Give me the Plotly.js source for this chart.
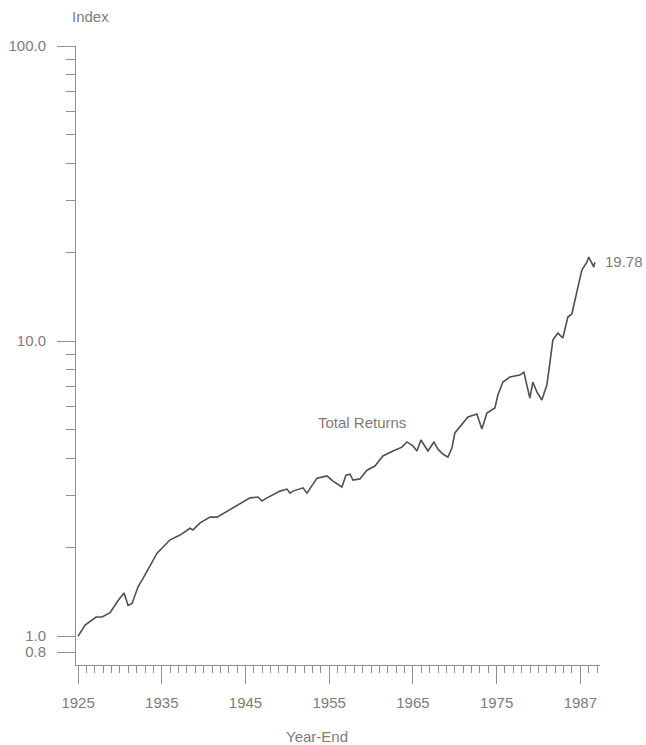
<!DOCTYPE html>
<html>
<head>
<meta charset="utf-8">
<script src="https://cdn.plot.ly/plotly-3.0.1.min.js"></script>
<style>html,body{margin:0;padding:0;background:#fff;}#chart{width:646px;height:745px;}</style>
</head>
<body>
<div id="chart"></div>
<script>
// Year-end positions (fractional years) and index values
const years = [1925.0,1925.84,1927.15,1927.87,1928.82,1929.78,1930.49,1930.97,1931.45,1932.16,
  1932.76,1933.6,1934.43,1935.99,1937.18,1938.37,1938.73,1939.57,1940.76,1941.6,
  1942.79,1943.51,1944.58,1945.54,1946.49,1946.97,1947.57,1949.12,1949.96,1950.31,
  1950.67,1951.87,1952.34,1953.54,1954.73,1955.45,1956.52,1957.0,1957.48,1957.84,
  1958.67,1959.51,1960.46,1961.42,1962.61,1963.69,1964.28,1965.0,1965.48,1965.96,
  1966.79,1967.51,1967.99,1968.58,1969.18,1969.66,1970.01,1970.61,1971.57,1972.64,
  1973.24,1973.84,1974.79,1975.15,1975.75,1976.58,1977.78,1978.25,1978.61,1978.97,
  1979.33,1979.81,1980.4,1981.0,1981.36,1981.72,1982.31,1982.91,1983.51,1983.99,
  1984.58,1985.18,1985.78,1986.01,1986.37,1986.61,1986.73];
const totalReturns = [1.00,1.09,1.16,1.16,1.20,1.32,1.40,1.27,1.29,1.47,
  1.57,1.74,1.91,2.12,2.20,2.32,2.29,2.42,2.53,2.53,
  2.65,2.72,2.85,2.94,2.96,2.87,2.94,3.10,3.15,3.05,
  3.10,3.18,3.05,3.43,3.49,3.35,3.20,3.51,3.54,3.38,
  3.41,3.65,3.77,4.08,4.24,4.37,4.55,4.41,4.24,4.62,
  4.24,4.55,4.30,4.14,4.04,4.34,4.88,5.11,5.53,5.66,
  5.03,5.70,5.93,6.56,7.26,7.55,7.67,7.85,6.99,6.41,
  7.26,6.72,6.31,7.09,8.42,10.08,10.64,10.24,12.06,12.35,
  14.66,17.41,18.52,19.27,18.38,17.81,18.52];

const xTickVals = [1925,1935,1945,1955,1965,1975,1985];
const xTickText = ["1925","1935","1945","1955","1965","1975","1987"];
const xMinorVals = [];
for (let y = 1926; y <= 1987; y++) if ((y - 1925) % 10 !== 0) xMinorVals.push(y);

const yTickVals = [0.883, 1, 10, 100];
const yTickText = ["0.8", "1.0", "10.0", "100.0"];
const yMinorVals = [2,3,4,5,6,7,8,9,20,30,40,50,60,70,80,90];

const endLabel = "19.78";
const seriesLabel = "Total Returns";

const txt = '#7c7c7c';
const axc = '#8f8f8f';
const font = {family: 'Liberation Sans, Arial, sans-serif', size: 15, color: txt};

const trace = {
  x: years, y: totalReturns, type: 'scatter', mode: 'lines',
  line: {color: '#505050', width: 1.6}, hoverinfo: 'skip'
};

const layout = {
  width: 646, height: 745,
  margin: {l: 76, r: 46, t: 46, b: 80},
  paper_bgcolor: '#fff', plot_bgcolor: '#fff',
  showlegend: false,
  font: font,
  xaxis: {
    range: [1924.75, 1987.35],
    tickmode: 'array', tickvals: xTickVals, ticktext: xTickText,
    ticks: 'outside', ticklen: 18, tickwidth: 1, tickcolor: axc,
    ticklabelstandoff: 6,
    minor: {tickmode: 'array', tickvals: xMinorVals, ticks: 'outside', ticklen: 7, tickwidth: 1, tickcolor: axc},
    showline: true, linecolor: axc, linewidth: 1,
    showgrid: false, zeroline: false,
    tickfont: font
  },
  yaxis: {
    type: 'log', range: [-0.098, 2],
    tickmode: 'array', tickvals: yTickVals, ticktext: yTickText,
    ticks: 'outside', ticklen: 18, tickwidth: 1, tickcolor: axc,
    ticklabelstandoff: 8,
    minor: {tickmode: 'array', tickvals: yMinorVals, ticks: 'outside', ticklen: 9, tickwidth: 1, tickcolor: axc},
    showline: true, linecolor: axc, linewidth: 1,
    showgrid: false, zeroline: false,
    tickfont: font
  },
  annotations: [
    {text: 'Index', xref: 'paper', yref: 'paper', x: 0.0286, y: 1.047, xanchor: 'center', yanchor: 'middle', showarrow: false, font: font},
    {text: 'Year-End', xref: 'paper', yref: 'paper', x: 0.459, y: -0.116, xanchor: 'center', yanchor: 'middle', showarrow: false, font: font},
    {text: seriesLabel, xref: 'x', yref: 'y', x: 1958.9, y: 0.7254, xanchor: 'center', yanchor: 'middle', showarrow: false, font: font},
    {text: endLabel, xref: 'paper', yref: 'y', x: 1.0057, y: 1.268, xanchor: 'left', yanchor: 'middle', showarrow: false, font: font}
  ]
};

Plotly.newPlot('chart', [trace], layout, {staticPlot: true, displayModeBar: false});
</script>
</body>
</html>
